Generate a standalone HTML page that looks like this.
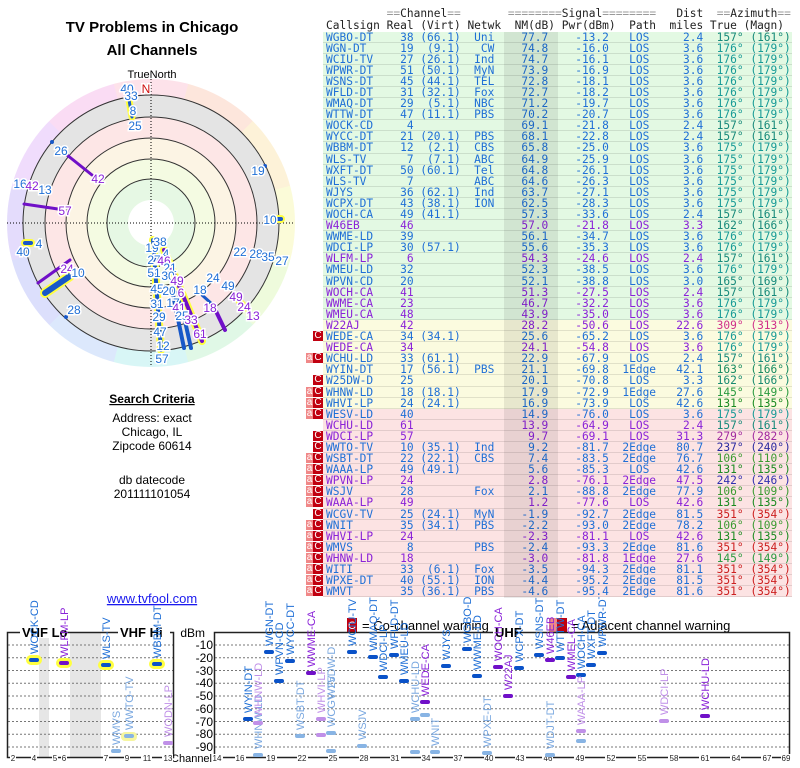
<!DOCTYPE html>
<html><head><meta charset="utf-8"><style>
body{margin:0;width:800px;height:768px;background:#fff;position:relative;overflow:hidden;font-family:"Liberation Sans",sans-serif}
.hd,.row{font-family:"DejaVu Sans Mono","Liberation Mono",monospace;font-size:11.2px;white-space:pre;}
.hd{position:absolute;left:326px;color:#222;line-height:12px}
.eq{color:#999}
#tbl{position:absolute;left:323px;top:31.5px;width:469px}
.row{height:11.1px;line-height:11.1px;padding-left:3px;position:relative;box-sizing:border-box;border-bottom:1px solid rgba(0,0,0,0.1)}
.g{background:#e3f9e3}.y{background:#fbfbdf}.k{background:#fce3e3}
.b{color:#1f6fd6}.p{color:#8a22d8}
.bd{position:absolute;top:0;height:10px;line-height:10px;font-size:10px;color:#fff;text-align:center;font-family:"Liberation Sans",sans-serif}
.c{left:-10px;width:10px;background:#c00010}
.a{left:-17px;width:7px;background:#f08888}
#band{position:absolute;left:504px;top:31.5px;width:54px;height:566px;background:rgba(0,0,0,0.08)}
.t{position:absolute;width:304px;left:0;text-align:center;color:#000}
</style></head><body>
<div class="t" style="top:19px;font-weight:bold;font-size:15px">TV Problems in Chicago</div>
<div class="t" style="top:42px;font-weight:bold;font-size:15px">All Channels</div>
<div class="t" style="top:69px;font-size:11px">TrueNorth</div>
<div style="position:absolute;left:7px;top:79px;width:288px;height:288px;border-radius:50%;background:conic-gradient(from -15deg,#fde2ea 0 30deg,#fde6dc 30deg 60deg,#fdf2d8 60deg 90deg,#fbfbd8 90deg 120deg,#eefbdc 120deg 150deg,#e0f8e6 150deg 180deg,#d8f6f6 180deg 210deg,#dce8fc 210deg 240deg,#dcdffc 240deg 270deg,#e4dcfc 270deg 300deg,#f0dcfc 300deg 330deg,#fadcf4 330deg 360deg)"></div>
<svg style="position:absolute;left:0;top:0" width="800" height="768" font-family="Liberation Sans,sans-serif">
<g>
<circle cx="151" cy="223" r="128" fill="#e4e4e4" stroke="#333" stroke-width="1"/>
<circle cx="151" cy="223" r="106" fill="#fde6e6" stroke="#333" stroke-width="1"/>
<circle cx="151" cy="223" r="85" fill="#fcf4e4" stroke="#333" stroke-width="1"/>
<circle cx="151" cy="223" r="64" fill="#f4fbe2" stroke="#333" stroke-width="1"/>
<circle cx="151" cy="223" r="44" fill="#e6f8e4" stroke="#333" stroke-width="1"/>
<circle cx="151" cy="223" r="23" fill="#fff"/>
<line x1="7" y1="223" x2="295" y2="223" stroke="#000" stroke-dasharray="1,2"/>
<line x1="151" y1="79" x2="151" y2="367" stroke="#000" stroke-dasharray="1,2"/>
<g stroke-linecap="round">
<line x1="129" y1="100" x2="132" y2="117" stroke="#ffff40" stroke-width="7"/>
<line x1="129" y1="100" x2="132" y2="117" stroke="#1858c8" stroke-width="3"/>
<line x1="67" y1="155" x2="92" y2="175" stroke="#7010c8" stroke-width="3"/>
<circle cx="52" cy="142" r="2" fill="#1858c8"/><circle cx="265" cy="166" r="2" fill="#1858c8"/>
<line x1="24" y1="204" x2="58" y2="209" stroke="#7010c8" stroke-width="3"/>
<line x1="276" y1="219" x2="281" y2="219" stroke="#ffff40" stroke-width="8"/>
<line x1="276" y1="219" x2="281" y2="219" stroke="#1858c8" stroke-width="4"/>
<line x1="25" y1="243" x2="31" y2="243" stroke="#ffff40" stroke-width="8"/>
<line x1="25" y1="243" x2="31" y2="243" stroke="#1858c8" stroke-width="4"/>
<line x1="34" y1="186" x2="39" y2="188" stroke="#ffff40" stroke-width="6"/>
<line x1="38" y1="283" x2="70" y2="260" stroke="#7010c8" stroke-width="3"/>
<line x1="45" y1="293" x2="70" y2="276" stroke="#ffff40" stroke-width="10"/>
<line x1="45" y1="293" x2="70" y2="276" stroke="#1858c8" stroke-width="6"/>
<circle cx="66" cy="317" r="2" fill="#1858c8"/>
<line x1="202" y1="295" x2="213" y2="305" stroke="#1858c8" stroke-width="3"/>
<line x1="213" y1="305" x2="225" y2="330" stroke="#7010c8" stroke-width="4"/>
<line x1="236" y1="298" x2="246" y2="308" stroke="#ffff40" stroke-width="7"/>
<line x1="153" y1="240" x2="161" y2="350" stroke="#ffff40" stroke-width="8"/>
<line x1="153" y1="240" x2="161" y2="350" stroke="#1858c8" stroke-width="4"/>
<line x1="172" y1="290" x2="184" y2="348" stroke="#1858c8" stroke-width="4"/>
<line x1="178" y1="290" x2="191" y2="348" stroke="#1858c8" stroke-width="4"/>
<line x1="164" y1="250" x2="202" y2="341" stroke="#ffff40" stroke-width="8"/>
<line x1="164" y1="250" x2="202" y2="341" stroke="#7010c8" stroke-width="4"/>
</g>
<g font-size="12" stroke="#fff" stroke-width="3" paint-order="stroke" text-anchor="middle" fill="#1f6fd6">
<text x="127" y="93">40</text><text x="131" y="100">33</text><text x="133" y="115">8</text><text x="135" y="130">25</text>
<text x="146" y="93" fill="#d01010">N</text>
<text x="61" y="155">26</text><text x="98" y="183" fill="#8a22d8">42</text>
<text x="258" y="175">19</text>
<text x="20" y="188">16</text><text x="32" y="190" fill="#8a22d8">42</text><text x="45" y="194">13</text>
<text x="65" y="215" fill="#8a22d8">57</text>
<text x="270" y="224">10</text>
<text x="39" y="248">4</text><text x="23" y="256">40</text>
<text x="67" y="273" fill="#8a22d8">24</text><text x="78" y="277">10</text>
<text x="74" y="314">28</text>
<text x="240" y="256">22</text><text x="256" y="258">28</text><text x="268" y="261">35</text><text x="282" y="265">27</text>
<text x="213" y="282">24</text><text x="228" y="290">49</text><text x="236" y="301" fill="#8a22d8">49</text><text x="244" y="311" fill="#8a22d8">24</text><text x="253" y="320" fill="#8a22d8">13</text>
<text x="200" y="294">18</text><text x="210" y="312" fill="#8a22d8">18</text>
<text x="152" y="252">19</text><text x="160" y="246">38</text><text x="166" y="258">4</text><text x="154" y="264">27</text><text x="164" y="265" fill="#8a22d8">46</text>
<text x="170" y="272">21</text><text x="154" y="277">51</text><text x="168" y="280">30</text><text x="177" y="285" fill="#8a22d8">49</text>
<text x="157" y="293">45</text><text x="169" y="295">20</text><text x="181" y="297" fill="#8a22d8">6</text>
<text x="157" y="308">31</text><text x="173" y="307">17</text><text x="179" y="312" fill="#8a22d8">41</text>
<text x="159" y="321">29</text><text x="182" y="320">25</text><text x="191" y="324" fill="#8a22d8">33</text>
<text x="160" y="336">47</text><text x="200" y="338" fill="#8a22d8">61</text><text x="163" y="350">12</text><text x="162" y="363">57</text>
</g>
</g>
<g font-size="12" text-anchor="middle" fill="#000">
<text x="152" y="403" font-weight="bold" text-decoration="underline">Search Criteria</text>
<text x="152" y="422">Address: exact</text>
<text x="152" y="436">Chicago, IL</text>
<text x="152" y="450">Zipcode 60614</text>
<text x="152" y="484">db datecode</text>
<text x="152" y="498">201111101054</text>
<text x="152" y="603" font-size="13" fill="#1a1aee" text-decoration="underline">www.tvfool.com</text>
</g>
<rect x="347" y="618" width="10" height="14" fill="#c00010"/><text x="352" y="629" font-size="11" fill="#fff" text-anchor="middle">C</text>
<text x="362" y="630" font-size="13">= Co-channel warning</text>
<rect x="549" y="618" width="8" height="14" fill="#f08888"/><rect x="557" y="618" width="10" height="14" fill="#c00010"/>
<text x="571" y="630" font-size="13">= Adjacent channel warning</text>
<rect x="39" y="632" width="10" height="126" fill="#e6e6e6"/>
<rect x="70" y="632" width="31" height="126" fill="#e6e6e6"/>
<g stroke="#777" stroke-dasharray="2,2" stroke-width="1">
<line x1="8" x2="174" y1="645" y2="645"/><line x1="8" x2="174" y1="657.75" y2="657.75"/><line x1="8" x2="174" y1="670.5" y2="670.5"/><line x1="8" x2="174" y1="683.25" y2="683.25"/><line x1="8" x2="174" y1="696" y2="696"/><line x1="8" x2="174" y1="708.75" y2="708.75"/><line x1="8" x2="174" y1="721.5" y2="721.5"/><line x1="8" x2="174" y1="734.25" y2="734.25"/><line x1="8" x2="174" y1="747" y2="747"/>
<line x1="215" x2="789" y1="645" y2="645"/><line x1="215" x2="789" y1="657.75" y2="657.75"/><line x1="215" x2="789" y1="670.5" y2="670.5"/><line x1="215" x2="789" y1="683.25" y2="683.25"/><line x1="215" x2="789" y1="696" y2="696"/><line x1="215" x2="789" y1="708.75" y2="708.75"/><line x1="215" x2="789" y1="721.5" y2="721.5"/><line x1="215" x2="789" y1="734.25" y2="734.25"/><line x1="215" x2="789" y1="747" y2="747"/>
</g>
<rect x="7.5" y="632.5" width="166" height="125" fill="none" stroke="#222" stroke-width="1.5"/>
<rect x="214.5" y="632.5" width="575" height="125" fill="none" stroke="#222" stroke-width="1.5"/>
<rect x="20" y="626" width="40" height="12" fill="#fff"/><text x="22" y="637" font-size="13" font-weight="bold">VHF Lo</text>
<rect x="118" y="626" width="52" height="12" fill="#fff"/><text x="120" y="637" font-size="13" font-weight="bold">VHF Hi</text>
<rect x="493" y="626" width="26" height="12" fill="#fff"/><text x="495" y="637" font-size="13" font-weight="bold">UHF</text>
<g font-size="12" text-anchor="end">
<text x="205" y="637">dBm</text><text x="213" y="649">-10</text><text x="213" y="662">-20</text><text x="213" y="675">-30</text><text x="213" y="687">-40</text><text x="213" y="700">-50</text><text x="213" y="713">-60</text><text x="213" y="726">-70</text><text x="213" y="738">-80</text><text x="213" y="751">-90</text>
<text x="212" y="762" font-size="11">Channel</text>
</g>
<g font-size="8" text-anchor="middle" fill="#222">
<g fill="#fff" stroke="none">
<rect x="10" y="754" width="6" height="8"/><rect x="31" y="754" width="6" height="8"/><rect x="52" y="754" width="6" height="8"/><rect x="61" y="754" width="6" height="8"/><rect x="103" y="754" width="6" height="8"/><rect x="124" y="754" width="6" height="8"/><rect x="141" y="754" width="11" height="8"/><rect x="162" y="754" width="11" height="8"/>
</g>
<text x="13" y="761">2</text><text x="34" y="761">4</text><text x="55" y="761">5</text><text x="64" y="761">6</text><text x="106" y="761">7</text><text x="127" y="761">9</text><text x="147" y="761">11</text><text x="168" y="761">13</text>
<g fill="#fff"><rect x="212" y="754" width="11" height="8"/><rect x="235" y="754" width="11" height="8"/><rect x="266" y="754" width="11" height="8"/><rect x="297" y="754" width="11" height="8"/><rect x="328" y="754" width="11" height="8"/><rect x="359" y="754" width="11" height="8"/><rect x="390" y="754" width="11" height="8"/><rect x="421" y="754" width="11" height="8"/><rect x="453" y="754" width="11" height="8"/><rect x="484" y="754" width="11" height="8"/><rect x="515" y="754" width="11" height="8"/><rect x="542" y="754" width="11" height="8"/><rect x="574" y="754" width="11" height="8"/><rect x="605" y="754" width="11" height="8"/><rect x="636" y="754" width="11" height="8"/><rect x="668" y="754" width="11" height="8"/><rect x="699" y="754" width="11" height="8"/><rect x="730" y="754" width="11" height="8"/><rect x="761" y="754" width="11" height="8"/><rect x="781" y="754" width="11" height="8"/></g>
<text x="217" y="761">14</text><text x="240" y="761">16</text><text x="271" y="761">19</text><text x="302" y="761">22</text><text x="333" y="761">25</text><text x="364" y="761">28</text><text x="395" y="761">31</text><text x="426" y="761">34</text><text x="458" y="761">37</text><text x="489" y="761">40</text><text x="520" y="761">43</text><text x="548" y="761">46</text><text x="580" y="761">49</text><text x="611" y="761">52</text><text x="642" y="761">55</text><text x="674" y="761">58</text><text x="705" y="761">61</text><text x="736" y="761">64</text><text x="767" y="761">67</text><text x="786" y="761">69</text>
</g>
<g fill="#ffff40"><rect x="26" y="655" width="16" height="10" rx="5"/><rect x="56" y="658" width="16" height="10" rx="5"/><rect x="98" y="660" width="16" height="10" rx="5"/><rect x="149" y="659" width="16" height="10" rx="5"/><rect x="121" y="732" width="16" height="9" rx="4" fill="#f6f6a0"/></g>
<g font-size="11">
<g>
<rect x="29" y="658" width="10" height="4" rx="2" fill="#0a52c8"/><text transform="translate(38,654) rotate(-90)" fill="#1f6fd6">WOCK-CD</text>
<rect x="59" y="661" width="10" height="4" rx="2" fill="#7010c8"/><text transform="translate(68,657) rotate(-90)" fill="#8a22d8">WLFM-LP</text>
<rect x="101" y="663" width="10" height="4" rx="2" fill="#0a52c8"/><text transform="translate(110,659) rotate(-90)" fill="#1f6fd6">WLS-TV</text>
<rect x="152" y="662" width="10" height="4" rx="2" fill="#0a52c8"/><text transform="translate(161,658) rotate(-90)" fill="#1f6fd6">WBBM-DT</text>
<rect x="111" y="749" width="10" height="4" rx="2" fill="#88b4e4"/><text transform="translate(120,745) rotate(-90)" fill="#7aa8e0">WMVS</text>
<rect x="124" y="734" width="10" height="4" rx="2" fill="#88b4e4"/><text transform="translate(133,730) rotate(-90)" fill="#7aa8e0">WWTO-TV</text>
<rect x="163" y="741" width="10" height="4" rx="2" fill="#c090e8"/><text transform="translate(172,737) rotate(-90)" fill="#c090e8">WODN-LP</text>
</g>
<g>
<rect x="243" y="717" width="10" height="4" rx="2" fill="#0a52c8"/><text transform="translate(252,713) rotate(-90)" fill="#1f6fd6">WYIN-DT</text>
<rect x="253" y="753" width="10" height="4" rx="2" fill="#88b4e4"/><text transform="translate(262,749) rotate(-90)" fill="#7aa8e0">WHNW-LD</text>
<rect x="253" y="721" width="10" height="4" rx="2" fill="#c090e8"/><text transform="translate(262,717) rotate(-90)" fill="#c090e8">WHNW-LD</text>
<rect x="264" y="650" width="10" height="4" rx="2" fill="#0a52c8"/><text transform="translate(273,646) rotate(-90)" fill="#1f6fd6">WGN-DT</text>
<rect x="274" y="679" width="10" height="4" rx="2" fill="#0a52c8"/><text transform="translate(283,675) rotate(-90)" fill="#1f6fd6">WPVN-CD</text>
<rect x="285" y="659" width="10" height="4" rx="2" fill="#0a52c8"/><text transform="translate(294,655) rotate(-90)" fill="#1f6fd6">WYCC-DT</text>
<rect x="295" y="734" width="10" height="4" rx="2" fill="#88b4e4"/><text transform="translate(304,730) rotate(-90)" fill="#7aa8e0">WSBT-DT</text>
<rect x="306" y="671" width="10" height="4" rx="2" fill="#7010c8"/><text transform="translate(315,667) rotate(-90)" fill="#8a22d8">WWME-CA</text>
<rect x="316" y="717" width="10" height="4" rx="2" fill="#c090e8"/><rect x="316" y="733" width="10" height="4" rx="2" fill="#c090e8"/><text transform="translate(325,713) rotate(-90)" fill="#c090e8">WHVI-LP</text>
<rect x="326" y="731" width="10" height="4" rx="2" fill="#88b4e4"/><rect x="326" y="749" width="10" height="4" rx="2" fill="#88b4e4"/><text transform="translate(335,727) rotate(-90)" fill="#7aa8e0">WCGV-TV</text><text transform="translate(335,699) rotate(-90)" fill="#7aa8e0">W25DW-D</text>
<rect x="347" y="650" width="10" height="4" rx="2" fill="#0a52c8"/><text transform="translate(356,646) rotate(-90)" fill="#1f6fd6">WCIU-TV</text>
<rect x="357" y="744" width="10" height="4" rx="2" fill="#88b4e4"/><text transform="translate(366,740) rotate(-90)" fill="#7aa8e0">WSJV</text>
<rect x="368" y="655" width="10" height="4" rx="2" fill="#0a52c8"/><text transform="translate(377,651) rotate(-90)" fill="#1f6fd6">WMAQ-DT</text>
<rect x="378" y="675" width="10" height="4" rx="2" fill="#0a52c8"/><text transform="translate(387,671) rotate(-90)" fill="#1f6fd6">WDCI-LP</text>
<rect x="389" y="653" width="10" height="4" rx="2" fill="#0a52c8"/><text transform="translate(398,649) rotate(-90)" fill="#1f6fd6">WFLD-DT</text>
<rect x="399" y="679" width="10" height="4" rx="2" fill="#0a52c8"/><text transform="translate(408,675) rotate(-90)" fill="#1f6fd6">WMEU-LD</text>
<rect x="410" y="717" width="10" height="4" rx="2" fill="#88b4e4"/><rect x="410" y="750" width="10" height="4" rx="2" fill="#88b4e4"/><text transform="translate(419,713) rotate(-90)" fill="#7aa8e0">WCHU-LD</text>
<rect x="420" y="700" width="10" height="4" rx="2" fill="#7010c8"/><text transform="translate(429,696) rotate(-90)" fill="#8a22d8">WEDE-CA</text>
<rect x="420" y="713" width="10" height="4" rx="2" fill="#88b4e4"/>
<rect x="430" y="750" width="10" height="4" rx="2" fill="#88b4e4"/><text transform="translate(439,746) rotate(-90)" fill="#7aa8e0">WNIT</text>
<rect x="441" y="664" width="10" height="4" rx="2" fill="#0a52c8"/><text transform="translate(450,660) rotate(-90)" fill="#1f6fd6">WJYS</text>
<rect x="462" y="647" width="10" height="4" rx="2" fill="#0a52c8"/><text transform="translate(471,643) rotate(-90)" fill="#1f6fd6">WGBO-DT</text>
<rect x="472" y="674" width="10" height="4" rx="2" fill="#0a52c8"/><text transform="translate(481,670) rotate(-90)" fill="#1f6fd6">WWME-LD</text>
<rect x="482" y="751" width="10" height="4" rx="2" fill="#88b4e4"/><text transform="translate(491,747) rotate(-90)" fill="#7aa8e0">WPXE-DT</text>
<rect x="493" y="665" width="10" height="4" rx="2" fill="#7010c8"/><text transform="translate(502,661) rotate(-90)" fill="#8a22d8">WOCH-CA</text>
<rect x="503" y="694" width="10" height="4" rx="2" fill="#7010c8"/><text transform="translate(512,690) rotate(-90)" fill="#8a22d8">W22AJ</text>
<rect x="514" y="666" width="10" height="4" rx="2" fill="#0a52c8"/><text transform="translate(523,662) rotate(-90)" fill="#1f6fd6">WCPX-DT</text>
<rect x="534" y="653" width="10" height="4" rx="2" fill="#0a52c8"/><text transform="translate(543,649) rotate(-90)" fill="#1f6fd6">WSNS-DT</text>
<rect x="545" y="658" width="10" height="4" rx="2" fill="#7010c8"/><text transform="translate(554,654) rotate(-90)" fill="#8a22d8">W46EB</text>
<rect x="545" y="753" width="10" height="4" rx="2" fill="#88b4e4"/><text transform="translate(554,749) rotate(-90)" fill="#7aa8e0">WDJT-DT</text>
<rect x="555" y="656" width="10" height="4" rx="2" fill="#0a52c8"/><text transform="translate(564,652) rotate(-90)" fill="#1f6fd6">WTTW-DT</text>
<rect x="566" y="675" width="10" height="4" rx="2" fill="#7010c8"/><text transform="translate(575,671) rotate(-90)" fill="#8a22d8">WMEL-CA</text>
<rect x="576" y="673" width="10" height="4" rx="2" fill="#0a52c8"/><text transform="translate(585,669) rotate(-90)" fill="#1f6fd6">WOCH-CA</text>
<rect x="576" y="729" width="10" height="4" rx="2" fill="#c090e8"/><rect x="576" y="739" width="10" height="4" rx="2" fill="#88b4e4"/><text transform="translate(585,725) rotate(-90)" fill="#c090e8">WAAA-LP</text>
<rect x="586" y="663" width="10" height="4" rx="2" fill="#0a52c8"/><text transform="translate(595,659) rotate(-90)" fill="#1f6fd6">WXFT-DT</text>
<rect x="597" y="651" width="10" height="4" rx="2" fill="#0a52c8"/><text transform="translate(606,647) rotate(-90)" fill="#1f6fd6">WPWR-DT</text>
<rect x="659" y="719" width="10" height="4" rx="2" fill="#c090e8"/><text transform="translate(668,715) rotate(-90)" fill="#c090e8">WDCI-LP</text>
<rect x="700" y="714" width="10" height="4" rx="2" fill="#7010c8"/><text transform="translate(709,710) rotate(-90)" fill="#8a22d8">WCHU-LD</text>
</g>
</g>
</svg>
<div class="hd" style="top:8px">         <span class="eq">==</span>Channel<span class="eq">==</span>       <span class="eq">========</span>Signal<span class="eq">========</span>   Dist  <span class="eq">==</span>Azimuth<span class="eq">==</span></div>
<div class="hd" style="top:20px">Callsign Real (Virt) Netwk  NM(dB) Pwr(dBm)  Path  miles True (Magn)</div>
<div id="tbl">
<div class="row g b">WGBO-DT    38 (66.1)  Uni    77.7    -13.2   LOS     2.4  <span style="color:#17897a">157° (161°)</span></div>
<div class="row g b">WGN-DT     19  (9.1)   CW    74.8    -16.0   LOS     3.6  <span style="color:#179a96">176° (179°)</span></div>
<div class="row g b">WCIU-TV    27 (26.1)  Ind    74.7    -16.1   LOS     3.6  <span style="color:#179a96">176° (179°)</span></div>
<div class="row g b">WPWR-DT    51 (50.1)  MyN    73.9    -16.9   LOS     3.6  <span style="color:#179a96">176° (179°)</span></div>
<div class="row g b">WSNS-DT    45 (44.1)  TEL    72.8    -18.1   LOS     3.6  <span style="color:#179a96">176° (179°)</span></div>
<div class="row g b">WFLD-DT    31 (32.1)  Fox    72.7    -18.2   LOS     3.6  <span style="color:#179a96">176° (179°)</span></div>
<div class="row g b">WMAQ-DT    29  (5.1)  NBC    71.2    -19.7   LOS     3.6  <span style="color:#179a96">176° (179°)</span></div>
<div class="row g b">WTTW-DT    47 (11.1)  PBS    70.2    -20.7   LOS     3.6  <span style="color:#179a96">176° (179°)</span></div>
<div class="row g b">WOCK-CD     4                69.1    -21.8   LOS     2.4  <span style="color:#17897a">157° (161°)</span></div>
<div class="row g b">WYCC-DT    21 (20.1)  PBS    68.1    -22.8   LOS     2.4  <span style="color:#17897a">157° (161°)</span></div>
<div class="row g b">WBBM-DT    12  (2.1)  CBS    65.8    -25.0   LOS     3.6  <span style="color:#179a96">175° (179°)</span></div>
<div class="row g b">WLS-TV      7  (7.1)  ABC    64.9    -25.9   LOS     3.6  <span style="color:#179a96">175° (179°)</span></div>
<div class="row g b">WXFT-DT    50 (60.1)  Tel    64.8    -26.1   LOS     3.6  <span style="color:#179a96">175° (179°)</span></div>
<div class="row g b">WLS-TV      7         ABC    64.6    -26.3   LOS     3.6  <span style="color:#179a96">175° (179°)</span></div>
<div class="row g b">WJYS       36 (62.1)  Ind    63.7    -27.1   LOS     3.6  <span style="color:#179a96">175° (179°)</span></div>
<div class="row g b">WCPX-DT    43 (38.1)  ION    62.5    -28.3   LOS     3.6  <span style="color:#179a96">175° (179°)</span></div>
<div class="row g b">WOCH-CA    49 (41.1)         57.3    -33.6   LOS     2.4  <span style="color:#17897a">157° (161°)</span></div>
<div class="row g p">W46EB      46                57.0    -21.8   LOS     3.3  <span style="color:#17897a">162° (166°)</span></div>
<div class="row g b">WWME-LD    39                56.1    -34.7   LOS     3.6  <span style="color:#179a96">176° (179°)</span></div>
<div class="row g b">WDCI-LP    30 (57.1)         55.6    -35.3   LOS     3.6  <span style="color:#179a96">176° (179°)</span></div>
<div class="row g p">WLFM-LP     6                54.3    -24.6   LOS     2.4  <span style="color:#17897a">157° (161°)</span></div>
<div class="row g b">WMEU-LD    32                52.3    -38.5   LOS     3.6  <span style="color:#179a96">176° (179°)</span></div>
<div class="row g b">WPVN-CD    20                52.1    -38.8   LOS     3.0  <span style="color:#17897a">165° (169°)</span></div>
<div class="row g p">WOCH-CA    41                51.3    -27.5   LOS     2.4  <span style="color:#17897a">157° (161°)</span></div>
<div class="row g p">WWME-CA    23                46.7    -32.2   LOS     3.6  <span style="color:#179a96">176° (179°)</span></div>
<div class="row g p">WMEU-CA    48                43.9    -35.0   LOS     3.6  <span style="color:#179a96">176° (179°)</span></div>
<div class="row y p">W22AJ      42                28.2    -50.6   LOS    22.6  <span style="color:#d0308a">309° (313°)</span></div>
<div class="row y b"><span class="bd c">C</span>WEDE-CA    34 (34.1)         25.6    -65.2   LOS     3.6  <span style="color:#179a96">176° (179°)</span></div>
<div class="row y p">WEDE-CA    34                24.1    -54.8   LOS     3.6  <span style="color:#179a96">176° (179°)</span></div>
<div class="row y b"><span class="bd a">a</span><span class="bd c">C</span>WCHU-LD    33 (61.1)         22.9    -67.9   LOS     2.4  <span style="color:#17897a">157° (161°)</span></div>
<div class="row y b">WYIN-DT    17 (56.1)  PBS    21.1    -69.8  1Edge   42.1  <span style="color:#178a60">163° (166°)</span></div>
<div class="row y b"><span class="bd c">C</span>W25DW-D    25                20.1    -70.8   LOS     3.3  <span style="color:#178a70">162° (166°)</span></div>
<div class="row y b"><span class="bd a">a</span><span class="bd c">C</span>WHNW-LD    18 (18.1)         17.9    -72.9  1Edge   27.6  <span style="color:#2a9a40">145° (149°)</span></div>
<div class="row y b"><span class="bd a">a</span><span class="bd c">C</span>WHVI-LP    24 (24.1)         16.9    -73.9   LOS    42.6  <span style="color:#1a8a20">131° (135°)</span></div>
<div class="row k b"><span class="bd a">a</span><span class="bd c">C</span>WESV-LD    40                14.9    -76.0   LOS     3.6  <span style="color:#179a96">175° (179°)</span></div>
<div class="row k p">WCHU-LD    61                13.9    -64.9   LOS     2.4  <span style="color:#17897a">157° (161°)</span></div>
<div class="row k p"><span class="bd c">C</span>WDCI-LP    57                 9.7    -69.1   LOS    31.3  <span style="color:#a02aa0">279° (282°)</span></div>
<div class="row k b"><span class="bd c">C</span>WWTO-TV    10 (35.1)  Ind     9.2    -81.7  2Edge   80.7  <span style="color:#2a2aa0">237° (240°)</span></div>
<div class="row k b"><span class="bd a">a</span><span class="bd c">C</span>WSBT-DT    22 (22.1)  CBS     7.4    -83.5  2Edge   76.7  <span style="color:#3a9a30">106° (110°)</span></div>
<div class="row k b"><span class="bd a">a</span><span class="bd c">C</span>WAAA-LP    49 (49.1)          5.6    -85.3   LOS    42.6  <span style="color:#1a8a20">131° (135°)</span></div>
<div class="row k p"><span class="bd a">a</span><span class="bd c">C</span>WPVN-LP    24                 2.8    -76.1  2Edge   47.5  <span style="color:#3030b0">242° (246°)</span></div>
<div class="row k b"><span class="bd a">a</span><span class="bd c">C</span>WSJV       28         Fox     2.1    -88.8  2Edge   77.9  <span style="color:#3a9a30">106° (109°)</span></div>
<div class="row k p"><span class="bd a">a</span><span class="bd c">C</span>WAAA-LP    49                 1.2    -77.6   LOS    42.6  <span style="color:#1a8a20">131° (135°)</span></div>
<div class="row k b"><span class="bd c">C</span>WCGV-TV    25 (24.1)  MyN    -1.9    -92.7  2Edge   81.5  <span style="color:#cc2020">351° (354°)</span></div>
<div class="row k b"><span class="bd a">a</span><span class="bd c">C</span>WNIT       35 (34.1)  PBS    -2.2    -93.0  2Edge   78.2  <span style="color:#3a9a30">106° (109°)</span></div>
<div class="row k p"><span class="bd a">a</span><span class="bd c">C</span>WHVI-LP    24                -2.3    -81.1   LOS    42.6  <span style="color:#1a8a20">131° (135°)</span></div>
<div class="row k b"><span class="bd a">a</span><span class="bd c">C</span>WMVS        8         PBS    -2.4    -93.3  2Edge   81.6  <span style="color:#cc2020">351° (354°)</span></div>
<div class="row k p"><span class="bd a">a</span><span class="bd c">C</span>WHNW-LD    18                -3.0    -81.8  1Edge   27.6  <span style="color:#2a9a40">145° (149°)</span></div>
<div class="row k b"><span class="bd a">a</span><span class="bd c">C</span>WITI       33  (6.1)  Fox    -3.5    -94.3  2Edge   81.1  <span style="color:#cc2020">351° (354°)</span></div>
<div class="row k b"><span class="bd a">a</span><span class="bd c">C</span>WPXE-DT    40 (55.1)  ION    -4.4    -95.2  2Edge   81.5  <span style="color:#cc2020">351° (354°)</span></div>
<div class="row k b"><span class="bd a">a</span><span class="bd c">C</span>WMVT       35 (36.1)  PBS    -4.6    -95.4  2Edge   81.6  <span style="color:#cc2020">351° (354°)</span></div>
</div>
<div id="band"></div>
</body></html>
